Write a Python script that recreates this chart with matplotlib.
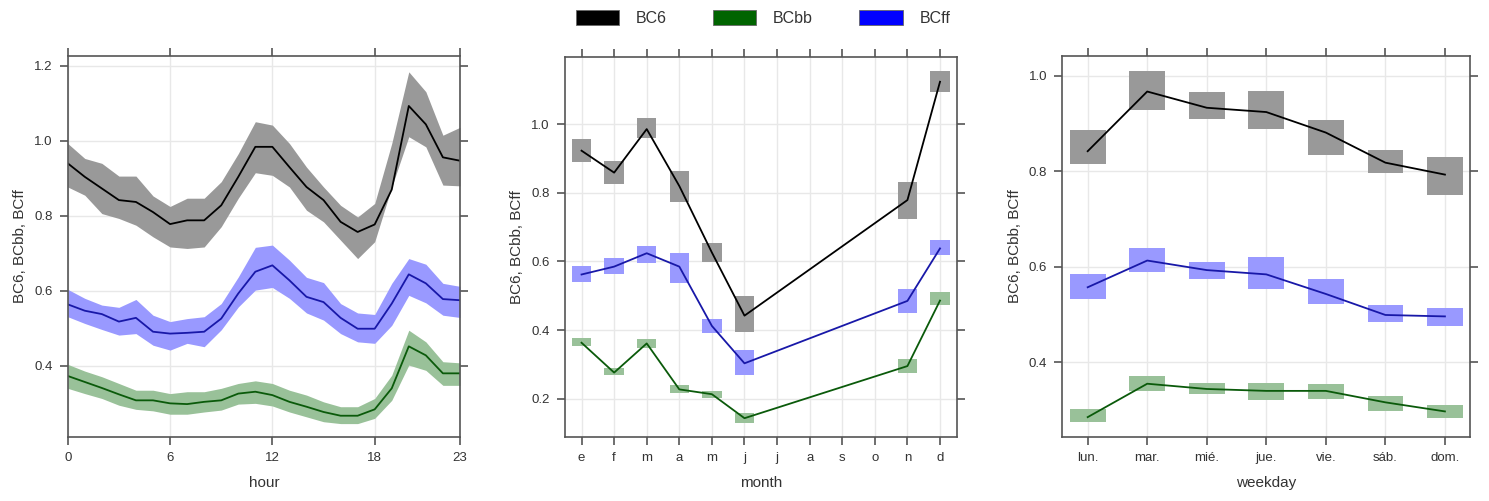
import matplotlib
matplotlib.use("Agg")
import matplotlib.pyplot as plt
from matplotlib.patches import Patch
import numpy as np

plt.rcParams['font.family'] = ['Liberation Sans', 'DejaVu Sans']

series = ["BC6", "BCbb", "BCff"]
line_colors = {"BC6": "#000000", "BCbb": "#0a5a0a", "BCff": "#1818a8"}
fill_colors = {"BC6": "#999999", "BCbb": "#99c199", "BCff": "#9999ff"}
legend_colors = {"BC6": "#000000", "BCbb": "#006400", "BCff": "#0000ff"}

# ---- hourly ----
hours = list(range(24))
hour_ticks = [0, 6, 12, 18, 23]
bc6_h = [0.94, 0.904, 0.873, 0.842, 0.837, 0.81, 0.778, 0.788, 0.788, 0.828, 0.904, 0.984,
         0.984, 0.93, 0.877, 0.842, 0.784, 0.757, 0.777, 0.87, 1.093, 1.044, 0.956, 0.947]
bc6_h_hi = [0.993, 0.953, 0.94, 0.906, 0.906, 0.853, 0.825, 0.847, 0.847, 0.891, 0.966, 1.051,
            1.042, 0.993, 0.93, 0.877, 0.828, 0.797, 0.833, 0.993, 1.184, 1.131, 1.015, 1.036]
bc6_h_lo = [0.877, 0.855, 0.806, 0.793, 0.775, 0.744, 0.717, 0.713, 0.717, 0.771, 0.847, 0.915,
            0.908, 0.877, 0.815, 0.784, 0.735, 0.686, 0.731, 0.877, 1.011, 0.984, 0.882, 0.88]
bcff_h = [0.564, 0.547, 0.538, 0.518, 0.528, 0.491, 0.486, 0.488, 0.491, 0.526, 0.593, 0.651,
          0.668, 0.628, 0.584, 0.57, 0.528, 0.499, 0.499, 0.566, 0.644, 0.62, 0.578, 0.575]
bcff_h_hi = [0.604, 0.58, 0.562, 0.556, 0.577, 0.535, 0.518, 0.526, 0.531, 0.566, 0.637, 0.716,
             0.722, 0.682, 0.636, 0.622, 0.566, 0.541, 0.537, 0.62, 0.686, 0.671, 0.62, 0.612]
bcff_h_lo = [0.531, 0.513, 0.497, 0.482, 0.486, 0.455, 0.442, 0.46, 0.451, 0.496, 0.557, 0.602,
             0.609, 0.58, 0.541, 0.522, 0.486, 0.464, 0.46, 0.508, 0.588, 0.568, 0.535, 0.529]
bcbb_h = [0.373, 0.357, 0.341, 0.324, 0.308, 0.308, 0.3, 0.298, 0.304, 0.308, 0.326, 0.331,
          0.322, 0.304, 0.291, 0.277, 0.267, 0.267, 0.284, 0.34, 0.452, 0.428, 0.38, 0.38]
bcbb_h_hi = [0.404, 0.386, 0.371, 0.353, 0.335, 0.335, 0.326, 0.331, 0.331, 0.34, 0.353, 0.36,
             0.353, 0.335, 0.322, 0.304, 0.291, 0.291, 0.313, 0.375, 0.495, 0.464, 0.411, 0.408]
bcbb_h_lo = [0.34, 0.326, 0.313, 0.295, 0.284, 0.28, 0.271, 0.271, 0.277, 0.282, 0.298, 0.3,
             0.293, 0.277, 0.264, 0.251, 0.246, 0.246, 0.26, 0.308, 0.402, 0.388, 0.348, 0.348]

# ---- monthly ----
month_labels = ["e", "f", "m", "a", "m", "j", "j", "a", "s", "o", "n", "d"]
months = [1, 2, 3, 4, 5, 6, 11, 12]
bc6_m = [0.923, 0.859, 0.986, 0.82, 0.626, 0.442, 0.779, 1.124]
bc6_m_hi = [0.956, 0.893, 1.019, 0.865, 0.653, 0.499, 0.833, 1.156]
bc6_m_lo = [0.891, 0.825, 0.959, 0.774, 0.598, 0.393, 0.724, 1.094]
bcff_m = [0.562, 0.585, 0.624, 0.585, 0.412, 0.303, 0.485, 0.638]
bcff_m_hi = [0.588, 0.609, 0.645, 0.624, 0.431, 0.342, 0.519, 0.663]
bcff_m_lo = [0.539, 0.563, 0.595, 0.536, 0.392, 0.269, 0.451, 0.619]
bcbb_m = [0.363, 0.276, 0.361, 0.227, 0.213, 0.143, 0.295, 0.486]
bcbb_m_hi = [0.378, 0.288, 0.374, 0.24, 0.222, 0.159, 0.315, 0.51]
bcbb_m_lo = [0.353, 0.269, 0.349, 0.217, 0.201, 0.13, 0.274, 0.473]

# ---- weekday ----
day_labels = ["lun.", "mar.", "mié.", "jue.", "vie.", "sáb.", "dom."]
bc6_d = [0.842, 0.967, 0.933, 0.924, 0.881, 0.818, 0.793]
bc6_d_hi = [0.886, 1.01, 0.967, 0.969, 0.907, 0.844, 0.83]
bc6_d_lo = [0.815, 0.928, 0.909, 0.888, 0.834, 0.796, 0.75]
bcff_d = [0.557, 0.613, 0.593, 0.584, 0.543, 0.499, 0.496]
bcff_d_hi = [0.584, 0.64, 0.61, 0.621, 0.574, 0.52, 0.513]
bcff_d_lo = [0.532, 0.59, 0.574, 0.554, 0.523, 0.484, 0.476]
bcbb_d = [0.285, 0.355, 0.344, 0.34, 0.34, 0.316, 0.297]
bcbb_d_hi = [0.302, 0.372, 0.356, 0.356, 0.354, 0.33, 0.311]
bcbb_d_lo = [0.274, 0.339, 0.334, 0.321, 0.323, 0.297, 0.284]

frame_col = "#555555"
text_col = "#333333"
grid_col = "#e8e8e8"

fig = plt.figure(figsize=(14.89, 5.01), dpi=100)
axL = fig.add_axes([0.0455, 0.1283, 0.2634, 0.7605])
axM = fig.add_axes([0.3794, 0.1283, 0.2635, 0.7585])
axR = fig.add_axes([0.7134, 0.1283, 0.2738, 0.7605])


def style(ax, xticks, xlabels, yticks, xlabel):
    for s in ax.spines.values():
        s.set_color(frame_col)
        s.set_linewidth(1.2)
    ax.set_xticks(xticks)
    ax.set_xticklabels(xlabels)
    ax.set_yticks(yticks)
    ax.set_yticklabels([f"{v:.1f}" for v in yticks])
    ax.tick_params(axis='both', direction='out', length=6, width=1.2, color=frame_col,
                   labelcolor=text_col, labelsize=9.5, top=True, right=True, pad=5)
    ax.grid(True, color=grid_col, linewidth=1)
    ax.set_axisbelow(True)
    ax.set_xlabel(xlabel, fontsize=11, color=text_col, labelpad=9)
    ax.set_ylabel("BC6, BCbb, BCff", fontsize=11, color=text_col, labelpad=5)


# left: hourly
for name, v, lo, hi in [("BC6", bc6_h, bc6_h_lo, bc6_h_hi),
                        ("BCff", bcff_h, bcff_h_lo, bcff_h_hi),
                        ("BCbb", bcbb_h, bcbb_h_lo, bcbb_h_hi)]:
    axL.fill_between(hours, lo, hi, color=fill_colors[name], linewidth=0)
    axL.plot(hours, v, color=line_colors[name], lw=1.3)
axL.set_xlim(0, 23)
axL.set_ylim(0.211, 1.227)
style(axL, hour_ticks, [str(h) for h in hour_ticks], [0.4, 0.6, 0.8, 1.0, 1.2], "hour")

# middle: monthly
for name, v, lo, hi in [("BC6", bc6_m, bc6_m_lo, bc6_m_hi),
                        ("BCff", bcff_m, bcff_m_lo, bcff_m_hi),
                        ("BCbb", bcbb_m, bcbb_m_lo, bcbb_m_hi)]:
    axM.bar(months, np.array(hi) - np.array(lo), bottom=lo, width=0.6,
            color=fill_colors[name], linewidth=0)
    axM.plot(months, v, color=line_colors[name], lw=1.3)
axM.set_xlim(0.49, 12.53)
axM.set_ylim(0.089, 1.197)
style(axM, list(range(1, 13)), month_labels, [0.2, 0.4, 0.6, 0.8, 1.0], "month")

# right: weekday
days = list(range(1, 8))
for name, v, lo, hi in [("BC6", bc6_d, bc6_d_lo, bc6_d_hi),
                        ("BCff", bcff_d, bcff_d_lo, bcff_d_hi),
                        ("BCbb", bcbb_d, bcbb_d_lo, bcbb_d_hi)]:
    axR.bar(days, np.array(hi) - np.array(lo), bottom=lo, width=0.6,
            color=fill_colors[name], linewidth=0)
    axR.plot(days, v, color=line_colors[name], lw=1.3)
axR.set_xlim(0.573, 7.42)
axR.set_ylim(0.244, 1.042)
style(axR, days, day_labels, [0.4, 0.6, 0.8, 1.0], "weekday")

handles = [Patch(facecolor=legend_colors[s], edgecolor="#666666", linewidth=0.6) for s in series]
fig.legend(handles, series, loc='center', bbox_to_anchor=(0.5125, 0.964), ncol=3,
           frameon=False, fontsize=11.5, handlelength=2.7, handleheight=1.0,
           handletextpad=1.05, columnspacing=2.9, labelcolor=text_col)

fig.savefig("out.png", dpi=100)
